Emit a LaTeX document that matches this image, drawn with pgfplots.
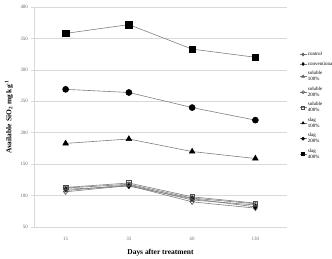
\documentclass[border=0pt]{standalone}
\usepackage{fontspec}
\setmainfont{Liberation Serif}
\usepackage{pgfplots}
\pgfplotsset{compat=1.18}

\definecolor{linegray}{HTML}{7F7F7F}
\definecolor{gridgray}{HTML}{D9D9D9}
\definecolor{tickgray}{HTML}{6E6E6E}

\pgfplotsset{
  ctrl/.style={mark=diamond, mark options={draw=black!70, fill=white}},
  conv/.style={mark=diamond*, mark options={draw=black, fill=black}},
  sol1/.style={mark=triangle, mark options={draw=black!70, fill=white}},
  sol2/.style={mark=o, mark options={draw=black!70, fill=white}},
  sol4/.style={mark=square, mark options={draw=black!70, fill=white}},
  slg1/.style={mark=triangle*, mark options={draw=black, fill=black}},
  slg2/.style={mark=*, mark options={draw=black, fill=black}},
  slg4/.style={mark=square*, mark options={draw=black, fill=black}},
  key/.style={linegray, line width=0.6pt, mark size=1.5bp},
}

\begin{document}
\begin{tikzpicture}
\path[use as bounding box] (-34bp,-32bp) rectangle (298bp,227bp);
\begin{axis}[
  at={(0,0)}, anchor=south west,
  scale only axis, width=253bp, height=220bp,
  xmin=-0.5, xmax=3.5, ymin=50, ymax=400,
  xtick={0,1,2,3}, xticklabels={15,35,60,130},
  ytick={50,100,...,400},
  ymajorgrids, grid style={gridgray, line width=0.7pt},
  axis x line*=bottom, axis y line*=left,
  axis line style={gridgray, line width=0.7pt},
  tick align=outside, major tick length=2.5bp,
  ytick style={gridgray, line width=0.7pt},
  xtick style={draw=none},
  /pgf/number format/assume math mode=true,
  ticklabel style={font=\fontsize{5}{6}\selectfont, text=tickgray},
  xticklabel style={yshift=-4bp},
  xlabel={\textbf{Days after treatment}},
  ylabel={\textbf{Available SiO\textsubscript{2} mg kg\textsuperscript{-1}}},
  label style={font=\fontsize{7.5}{9}\selectfont},
  xlabel style={at={(axis description cs:0.5,-0.118)}, anchor=center},
  ylabel style={at={(axis description cs:-0.099,0.5)}, anchor=center},
  every axis plot/.append style={line width=0.6pt, color=linegray},
  legend style={draw=none, fill=none, at={(axis description cs:1.036,0.81)},
    anchor=north west, font=\fontsize{5}{6}\selectfont,
    nodes={align=left, inner sep=1bp}, row sep=2.6bp},
  legend cell align=left,
  legend image code/.code={
    \draw[mark repeat=2, mark phase=2]
      plot coordinates {(0bp,0bp) (3.5bp,0bp) (7bp,0bp)};},
]
% control and conventional fertilizer
\addplot[ctrl, mark size=2.6bp, forget plot]
  coordinates {(0,106) (1,116) (2,90) (3,80)};
\addplot[conv, mark size=2.6bp, forget plot]
  coordinates {(0,110) (1,115) (2,95) (3,82)};
% soluble silicate, three rates
\addplot[sol1, mark size=2.6bp, forget plot]
  coordinates {(0,108) (1,117) (2,93) (3,85)};
\addplot[sol2, mark size=2.3bp, forget plot]
  coordinates {(0,112) (1,118) (2,96) (3,87)};
\addplot[sol4, mark size=2.3bp, forget plot]
  coordinates {(0,113) (1,120) (2,98) (3,88)};
% silicate slag, three rates
\addplot[slg1, mark size=3.2bp, forget plot]
  coordinates {(0,183) (1,190) (2,170) (3,159)};
\addplot[slg2, mark size=3bp, forget plot]
  coordinates {(0,269) (1,264) (2,240) (3,220)};
\addplot[slg4, mark size=3.2bp, forget plot]
  coordinates {(0,358) (1,372) (2,333) (3,320)};

% legend keys with small marks
\addlegendimage{key, ctrl}\addlegendentry{control}
\addlegendimage{key, conv}\addlegendentry{conventional}
\addlegendimage{key, sol1}\addlegendentry{soluble\\100\%}
\addlegendimage{key, sol2}\addlegendentry{soluble\\200\%}
\addlegendimage{key, sol4}\addlegendentry{soluble\\400\%}
\addlegendimage{key, slg1}\addlegendentry{slag\\100\%}
\addlegendimage{key, slg2}\addlegendentry{slag\\200\%}
\addlegendimage{key, slg4}\addlegendentry{slag\\400\%}
\end{axis}
\end{tikzpicture}
\end{document}
